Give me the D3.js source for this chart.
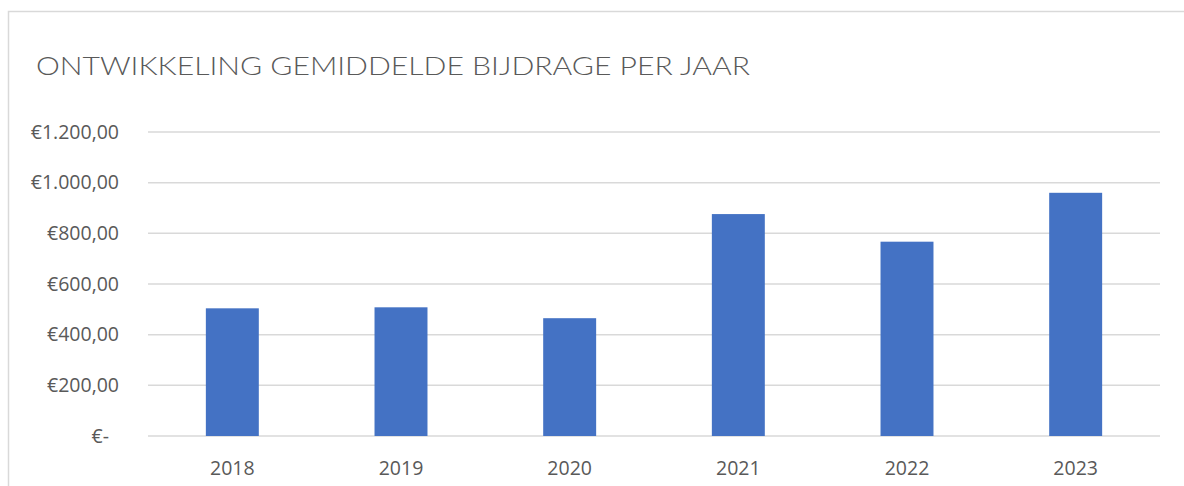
<!DOCTYPE html>
<html>
<head>
<meta charset="utf-8">
<script src="https://cdn.jsdelivr.net/npm/d3@7"></script>
<style>
  html, body { margin: 0; padding: 0; background: #fff; }
  svg { display: block; }
</style>
</head>
<body>
<div id="chart"></div>
<script>
// gegevens
const years = ['2018', '2019', '2020', '2021', '2022', '2023']
const bijdrage = [504, 508, 465, 876, 767, 960]
const yTicks = [0, 200, 400, 600, 800, 1000, 1200]
const title = 'ONTWIKKELING GEMIDDELDE BIJDRAGE PER JAAR'

const width = 1184
const height = 486
const plot = { left: 148, right: 1160, top: 132, bottom: 436 }

const svg = d3.select('#chart').append('svg')
  .attr('width', width)
  .attr('height', height)
  .attr('viewBox', `0 0 ${width} ${height}`)

// rand van het kader
svg.append('path')
  .attr('d', `M8.5,${height} V11.5 H${width}`)
  .attr('fill', 'none')
  .attr('stroke', '#d9d9d9')
  .attr('stroke-width', 1.5)

svg.append('text')
  .attr('x', 36)
  .attr('y', 75)
  .attr('fill', '#595959')
  .attr('font-family', 'Lato, "Open Sans", sans-serif')
  .attr('font-weight', 300)
  .attr('font-size', 25)
  .attr('textLength', 714)
  .attr('lengthAdjust', 'spacingAndGlyphs')
  .text(title)

const x = d3.scaleBand()
  .domain(years)
  .range([plot.left, plot.right])
  .paddingInner(0.686)
  .paddingOuter(0.343)

const y = d3.scaleLinear()
  .domain([0, 1200])
  .range([plot.bottom, plot.top])

const fmt = v => v === 0 ? '€-' : '€' + d3.format(',.2f')(v).replace(/,/g, '#').replace('.', ',').replace(/#/g, '.')

// rasterlijnen
svg.append('g')
  .selectAll('line')
  .data(yTicks)
  .join('line')
  .attr('x1', plot.left)
  .attr('x2', plot.right)
  .attr('y1', d => y(d))
  .attr('y2', d => y(d))
  .attr('stroke', '#d9d9d9')
  .attr('stroke-width', 1.5)

svg.append('g')
  .selectAll('text')
  .data(yTicks)
  .join('text')
  .attr('x', d => d === 0 ? 109 : 119)
  .attr('y', d => y(d))
  .attr('dy', '0.35em')
  .attr('text-anchor', 'end')
  .attr('fill', '#595959')
  .attr('font-family', '"Open Sans", sans-serif')
  .attr('font-size', 19.5)
  .text(fmt)

svg.append('g')
  .selectAll('rect')
  .data(bijdrage)
  .join('rect')
  .attr('x', (d, i) => x(years[i]))
  .attr('y', d => y(d))
  .attr('width', x.bandwidth())
  .attr('height', d => y(0) - y(d))
  .attr('fill', '#4472c4')

svg.append('g')
  .selectAll('text')
  .data(years)
  .join('text')
  .attr('x', d => x(d) + x.bandwidth() / 2)
  .attr('y', 475)
  .attr('text-anchor', 'middle')
  .attr('fill', '#595959')
  .attr('font-family', '"Open Sans", sans-serif')
  .attr('font-size', 19.5)
  .text(d => d)
</script>
</body>
</html>
